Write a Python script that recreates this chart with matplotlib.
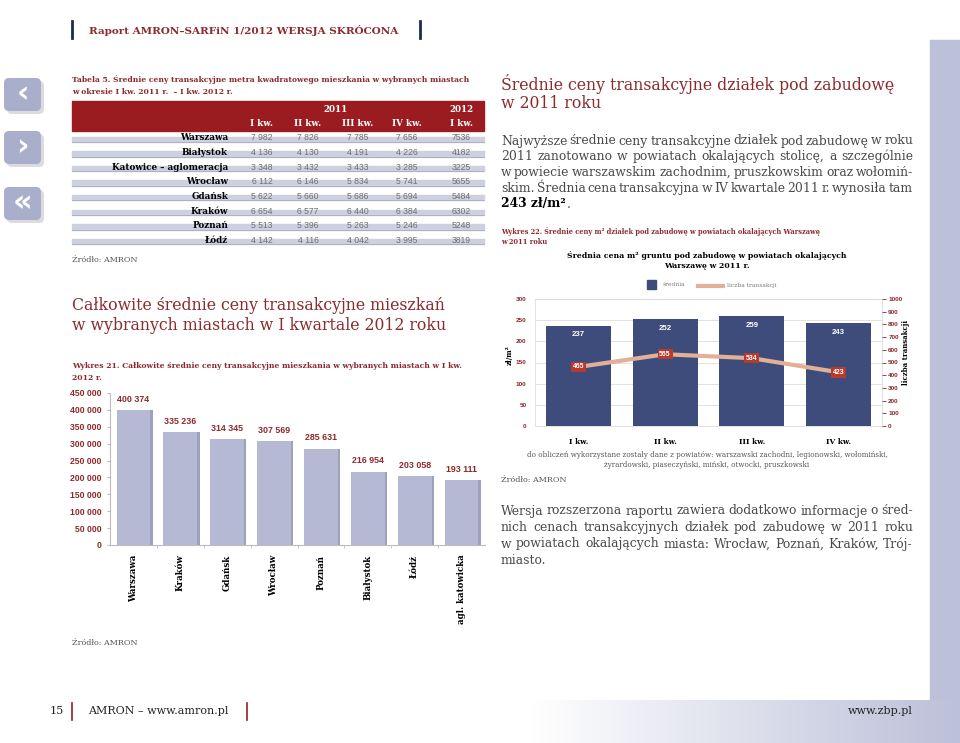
import numpy as np
import matplotlib
matplotlib.use('Agg')
import matplotlib.pyplot as plt
from matplotlib.patches import Rectangle, FancyBboxPatch
from matplotlib.colors import LinearSegmentedColormap

# ---- data -------------------------------------------------------------
table_cities = ['Warszawa', 'Białystok', 'Katowice – aglomeracja', 'Wrocław',
                'Gdańsk', 'Kraków', 'Poznań', 'Łódź']
table_cols = ['I kw.', 'II kw.', 'III kw.', 'IV kw.', 'I kw.']
table_years = ['2011', '2012']
table_vals = [
    [7982, 7826, 7785, 7656, 7536],
    [4136, 4130, 4191, 4226, 4182],
    [3348, 3432, 3433, 3285, 3225],
    [6112, 6146, 5834, 5741, 5655],
    [5622, 5660, 5686, 5694, 5484],
    [6654, 6577, 6440, 6384, 6302],
    [5513, 5396, 5263, 5246, 5248],
    [4142, 4116, 4042, 3995, 3819],
]

bar_cities = ['Warszawa', 'Kraków', 'Gdańsk', 'Wrocław', 'Poznań',
              'Białystok', 'Łódź', 'agl. katowicka']
bar_prices = [400374, 335236, 314345, 307569, 285631, 216954, 203058, 193111]

quarters = ['I kw.', 'II kw.', 'III kw.', 'IV kw.']
avg_price = [237, 252, 259, 243]
transactions = [465, 565, 534, 423]

# ---- colours / fonts --------------------------------------------------
RED = '#8C2A2E'
HEAD_RED = '#9B1C20'
LAV = '#BCC0D9'
BAR_LAV = '#B5B9D3'
NAVY = '#3E4C7C'
SALMON = '#E2B096'
GREY = '#4A4A4A'
SERIF = 'DejaVu Serif'
SANS = 'Liberation Sans'


def fmt(v):
    return f'{v:,}'.replace(',', ' ')


fig = plt.figure(figsize=(9.6, 7.43), dpi=100)
page = fig.add_axes([0, 0, 1, 1])
page.set_xlim(0, 960)
page.set_ylim(743, 0)
page.axis('off')
renderer = fig.canvas.get_renderer()

# page background: right band + bottom gradient
page.add_patch(Rectangle((930, 40), 30, 703, color=LAV, zorder=0))
grad = np.linspace(0, 1, 256).reshape(1, -1)
cmap = LinearSegmentedColormap.from_list('wl', ['white', LAV])
page.imshow(grad, extent=(530, 960, 743, 700), aspect='auto', cmap=cmap, zorder=0)
page.set_xlim(0, 960)
page.set_ylim(743, 0)

# header
page.plot([72, 72], [21, 38], color='#1F2A4F', lw=2)
page.plot([420, 420], [21, 38], color='#1F2A4F', lw=2)
page.text(89, 30, 'Raport AMRON–SARFiN 1/2012 WERSJA SKRÓCONA', color=RED,
          fontsize=7.5, fontweight='bold', family=SERIF, va='center')

# navigation icons
for y0, glyph in [(78, '‹'), (131, '›'), (187, '«')]:
    page.add_patch(FancyBboxPatch((7, y0 + 3), 37, 33, boxstyle='round,pad=0,rounding_size=5',
                                  fc='#9C9CA8', ec='none', alpha=0.35, zorder=1))
    page.add_patch(FancyBboxPatch((4, y0), 37, 33, boxstyle='round,pad=0,rounding_size=5',
                                  fc='#A9AECB', ec='none', zorder=2))
    page.text(22.5, y0 + 16, glyph, color='white', fontsize=22, fontweight='bold',
              ha='center', va='center', zorder=3)

# ---- table 5 ----------------------------------------------------------
page.text(72, 80, 'Tabela 5. Średnie ceny transakcyjne metra kwadratowego mieszkania w wybranych miastach',
          color=RED, fontsize=5.5, fontweight='bold', family=SERIF, va='center')
page.text(72, 92, 'w okresie I kw. 2011 r.  – I kw. 2012 r.',
          color=RED, fontsize=5.5, fontweight='bold', family=SERIF, va='center')
page.add_patch(Rectangle((72, 101), 412, 30, color=HEAD_RED))
col_x = [262, 308, 358, 407, 461]
page.text(336, 109, table_years[0], color='white', fontsize=6.3, fontweight='bold', family=SERIF,
          ha='center', va='center')
page.text(col_x[4], 109, table_years[1], color='white', fontsize=6.3, fontweight='bold', family=SERIF,
          ha='center', va='center')
for cx, c in zip(col_x, table_cols):
    page.text(cx, 123, c, color='white', fontsize=6.3, fontweight='bold', family=SERIF,
              ha='center', va='center')
for i, (city, vals) in enumerate(zip(table_cities, table_vals)):
    y = 138 + 14.6 * i
    page.add_patch(Rectangle((72, y - 1.5), 412, 5.5, color='#CDD0DE', zorder=1))
    page.plot([72, 484], [y + 4, y + 4], color='#A8ABBE', lw=0.6, zorder=1)
    page.text(228, y, city, color='black', fontsize=6.3, fontweight='bold', family=SERIF,
              ha='right', va='center', zorder=2)
    for j, (cx, v) in enumerate(zip(col_x, vals)):
        s = str(v) if j == 4 else fmt(v)
        page.text(cx, y, s, color='#707070', fontsize=6.2, family=SANS,
                  ha='center', va='center', zorder=2)
page.text(72, 260, 'Źródło: AMRON', color='#555555', fontsize=5.8, family=SERIF, va='center')

# ---- section: chart 21 ------------------------------------------------
page.text(72, 306, 'Całkowite średnie ceny transakcyjne mieszkań', color=RED,
          fontsize=11.3, family=SERIF, va='center')
page.text(72, 326, 'w wybranych miastach w I kwartale 2012 roku', color=RED,
          fontsize=11.3, family=SERIF, va='center')
page.text(72, 366, 'Wykres 21. Całkowite średnie ceny transakcyjne mieszkania w wybranych miastach w I kw.',
          color=RED, fontsize=5.5, fontweight='bold', family=SERIF, va='center')
page.text(72, 378, '2012 r.', color=RED, fontsize=5.5, fontweight='bold', family=SERIF, va='center')

ax1 = fig.add_axes([110 / 960, (743 - 545) / 743, 375 / 960, 152 / 743])
x = np.arange(len(bar_cities))
ax1.bar(x + 0.05, bar_prices, width=0.72, color='#9DA1BB', zorder=1)
ax1.bar(x, bar_prices, width=0.72, color=BAR_LAV, zorder=2)
for xi, v in zip(x, bar_prices):
    ax1.annotate(fmt(v), (xi, v), xytext=(0, 4.5), textcoords='offset points',
                 ha='center', va='bottom', color=RED, fontsize=6.4, fontweight='bold', family=SANS)
ax1.set_xlim(-0.5, 7.5)
ax1.set_ylim(0, 450000)
ax1.set_yticks(range(0, 450001, 50000))
ax1.set_yticklabels([fmt(t) for t in range(0, 450001, 50000)], color=RED, fontsize=6.2,
                    fontweight='bold', family=SANS)
ax1.set_xticks(x)
ax1.set_xticklabels(bar_cities, rotation=90, fontsize=6.2, fontweight='bold', family=SERIF)
ax1.set_xticks(x[:-1] + 0.5, minor=True)
ax1.tick_params(axis='x', which='major', length=0, pad=7)
ax1.tick_params(axis='x', which='minor', length=2, color='#BBBBBB')
ax1.tick_params(axis='y', length=2, color='#BBBBBB', pad=4)
for s in ['top', 'right']:
    ax1.spines[s].set_visible(False)
ax1.spines['left'].set_color('#BBBBBB')
ax1.spines['bottom'].set_color('#BBBBBB')
ax1.patch.set_alpha(0)
page.text(72, 643, 'Źródło: AMRON', color='#555555', fontsize=5.8, family=SERIF, va='center')

# ---- right column -----------------------------------------------------
page.text(501, 84, 'Średnie ceny transakcyjne działek pod zabudowę', color=RED,
          fontsize=11.3, family=SERIF, va='center')
page.text(501, 103, 'w 2011 roku', color=RED, fontsize=11.3, family=SERIF, va='center')


def justified(x0, x1, y, line, **kw):
    words = line.split(' ')
    texts = [page.text(0, y, w, va='center', **kw) for w in words]
    widths = [t.get_window_extent(renderer).width for t in texts]
    gap = (x1 - x0 - sum(widths)) / max(len(words) - 1, 1)
    pos = x0
    for t, w in zip(texts, widths):
        t.set_x(pos)
        pos += w + gap


para1 = ['Najwyższe średnie ceny transakcyjne działek pod zabudowę w roku',
         '2011 zanotowano w powiatach okalających stolicę, a szczególnie',
         'w powiecie warszawskim zachodnim, pruszkowskim oraz wołomiń-',
         'skim. Średnia cena transakcyjna w IV kwartale 2011 r. wynosiła tam']
for k, line in enumerate(para1):
    justified(501, 913, 141 + 15.7 * k, line, color=GREY, fontsize=8.9, family=SERIF)
bold = page.text(501, 204, '243 zł/m²', color='black', fontsize=8.9, fontweight='bold',
                 family=SERIF, va='center')
page.text(501 + bold.get_window_extent(renderer).width + 1, 204, '.', color=GREY, fontsize=8.9,
          family=SERIF, va='center')

page.text(501, 231, 'Wykres 22. Średnie ceny m² działek pod zabudowę w powiatach okalających Warszawę',
          color=RED, fontsize=4.8, fontweight='bold', family=SERIF, va='center')
page.text(501, 242, 'w 2011 roku', color=RED, fontsize=4.8, fontweight='bold', family=SERIF, va='center')
page.text(707, 256, 'Średnia cena m² gruntu pod zabudowę w powiatach okalających', color='black',
          fontsize=5.6, fontweight='bold', family=SERIF, ha='center', va='center')
page.text(707, 266, 'Warszawę w 2011 r.', color='black', fontsize=5.6, fontweight='bold',
          family=SERIF, ha='center', va='center')

# legend
page.add_patch(Rectangle((647, 280), 9, 9, color=NAVY))
page.text(663, 285, 'średnia', color='#777777', fontsize=4.3, family=SERIF, va='center')
page.plot([698, 723], [286, 286], color=SALMON, lw=3)
page.text(727, 286, 'liczba transakcji', color='#777777', fontsize=4.3, family=SERIF, va='center')

ax2 = fig.add_axes([535 / 960, (743 - 426) / 743, 347 / 960, 127 / 743])
q = np.arange(len(quarters))
ax2.bar(q, avg_price, width=0.75, color=NAVY, zorder=2)
for qi, v in zip(q, avg_price):
    ax2.annotate(str(v), (qi, v), xytext=(0, -4), textcoords='offset points', ha='center', va='top',
                 color='white', fontsize=5.6, fontweight='bold', family=SANS, zorder=3)
ax2.set_xlim(-0.5, 3.5)
ax2.set_ylim(0, 300)
ax2.set_yticks(range(0, 301, 50))
ax2.set_yticklabels([str(t) for t in range(0, 301, 50)], color=RED, fontsize=4.6,
                    fontweight='bold', family=SANS)
ax2.yaxis.grid(True, color='#DDDDDD', lw=0.6, zorder=0)
ax2.set_axisbelow(True)
ax2.set_xticks(q)
ax2.set_xticklabels(quarters, fontsize=5.3, fontweight='bold', family=SERIF)
ax2.tick_params(axis='x', length=0, pad=9)
ax2.tick_params(axis='y', length=0, pad=6)
for s in ax2.spines.values():
    s.set_color('#DDDDDD')
    s.set_linewidth(0.6)

ax2b = ax2.twinx()
ax2b.set_ylim(0, 1000)
ax2b.set_yticks(range(0, 1001, 100))
ax2b.set_yticklabels([str(t) for t in range(0, 1001, 100)], color=RED, fontsize=4.6,
                     fontweight='bold', family=SANS)
ax2b.tick_params(axis='y', length=3, color=RED, width=0.6, pad=1.5)
for s in ax2b.spines.values():
    s.set_visible(False)
ax2b.plot(q, transactions, color=SALMON, lw=3, solid_capstyle='round', zorder=3)
for qi, v in zip(q, transactions):
    ax2b.text(qi, v, str(v), ha='center', va='center', color='white', fontsize=5,
              fontweight='bold', family=SANS, zorder=4,
              bbox=dict(boxstyle='square,pad=0.25', fc='#B63A2E', ec='none'))

page.text(510, 355, 'zł/m²', rotation=90, color='black', fontsize=5, fontweight='bold',
          family=SERIF, ha='center', va='center')
page.text(906, 352, 'liczba transakcji', rotation=90, color='black', fontsize=5, fontweight='bold',
          family=SERIF, ha='center', va='center')

page.text(707, 455, 'do obliczeń wykorzystane zostały dane z powiatów: warszawski zachodni, legionowski, wołomiński,',
          color='#555555', fontsize=5.1, family=SERIF, ha='center', va='center')
page.text(707, 465, 'żyrardowski, piaseczyński, miński, otwocki, pruszkowski',
          color='#555555', fontsize=5.1, family=SERIF, ha='center', va='center')
page.text(501, 480, 'Źródło: AMRON', color='#555555', fontsize=5.8, family=SERIF, va='center')

para2 = ['Wersja rozszerzona raportu zawiera dodatkowo informacje o śred-',
         'nich cenach transakcyjnych działek pod zabudowę w 2011 roku',
         'w powiatach okalających miasta: Wrocław, Poznań, Kraków, Trój-']
for k, line in enumerate(para2):
    justified(501, 913, 511 + 16.5 * k, line, color=GREY, fontsize=8.9, family=SERIF)
page.text(501, 560, 'miasto.', color=GREY, fontsize=8.9, family=SERIF, va='center')

# ---- footer -----------------------------------------------------------
page.text(64, 711, '15', color='#222222', fontsize=8, family=SERIF, ha='right', va='center')
page.plot([72, 72], [703, 720], color=HEAD_RED, lw=1.2)
page.text(88, 711, 'AMRON – www.amron.pl', color='#222222', fontsize=8, family=SERIF, va='center')
page.plot([247, 247], [703, 720], color=HEAD_RED, lw=1.2)
page.text(913, 711, 'www.zbp.pl', color='#222222', fontsize=8, family=SERIF, ha='right', va='center')

fig.savefig('out.png', dpi=100)
